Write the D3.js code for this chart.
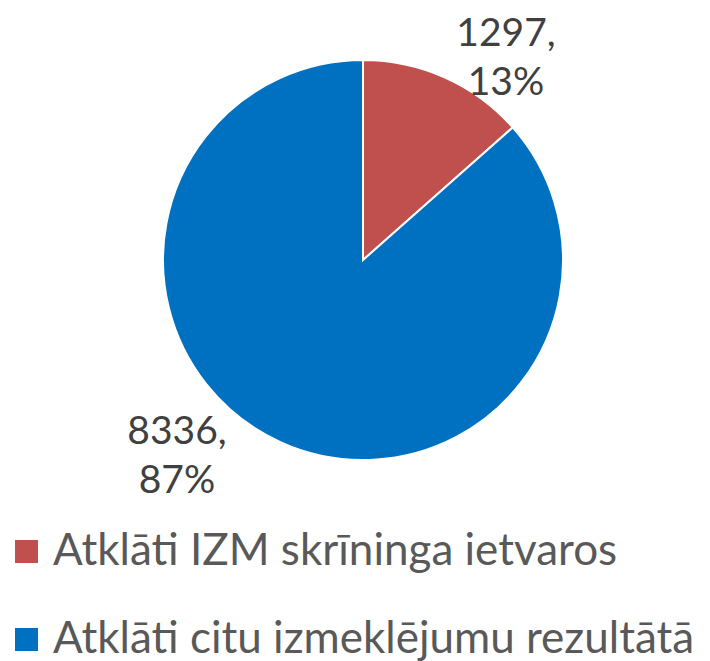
<!DOCTYPE html>
<html>
<head>
<meta charset="utf-8">
<script src="https://cdn.jsdelivr.net/npm/d3@7"></script>
<style>
  body { margin: 0; background: #fff; }
  text { font-family: Lato, "Open Sans", sans-serif; }
</style>
</head>
<body>
<script>
const width = 710;
const height = 661;

const categories = ["Atklāti IZM skrīninga ietvaros", "Atklāti citu izmeklējumu rezultātā"];
const values = [1297, 8336];
const percents = ["13%", "87%"];
const colors = ["#C0504D", "#0070C0"];

const svg = d3.select("body")
    .append("svg")
    .attr("width", width)
    .attr("height", height);

const cx = 363, cy = 260, radius = 200;

const pie = d3.pie().sort(null).value(d => d);
const arc = d3.arc().innerRadius(0).outerRadius(radius);

const g = svg.append("g").attr("transform", `translate(${cx},${cy})`);

g.selectAll("path")
    .data(pie(values))
    .enter()
    .append("path")
    .attr("d", arc)
    .style("fill", (d, i) => colors[i])
    .style("stroke", "#fff")
    .style("stroke-width", 2);

// data labels (positions next to slices like the original)
const labelPos = [[506, 46], [177, 444]];
values.forEach((v, i) => {
    const t = svg.append("text")
        .attr("x", labelPos[i][0])
        .attr("y", labelPos[i][1])
        .attr("text-anchor", "middle")
        .style("font-size", "39px")
        .style("fill", "#404040");
    t.append("tspan").attr("x", labelPos[i][0]).text(v + ",");
    t.append("tspan").attr("x", labelPos[i][0]).attr("dy", 49).text(percents[i]);
});

// legend
const legend = svg.selectAll(".legend")
    .data(categories)
    .enter()
    .append("g")
    .attr("class", "legend")
    .attr("transform", (d, i) => `translate(15,${540 + i * 88})`);

legend.append("rect")
    .attr("width", 23)
    .attr("height", 23)
    .style("fill", (d, i) => colors[i]);

legend.append("text")
    .attr("x", 38)
    .attr("y", 25)
    .style("font-size", "44px")
    .style("fill", "#595959")
    .text(d => d);
</script>
</body>
</html>
